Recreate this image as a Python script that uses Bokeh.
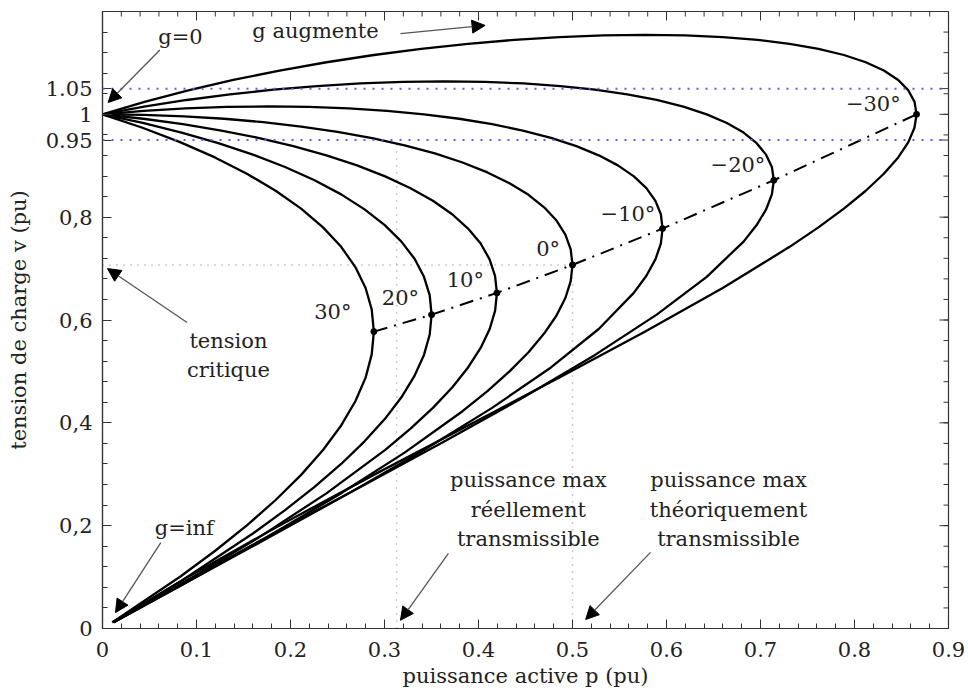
from bokeh.plotting import figure
from bokeh.models import (Range1d, FixedTicker, Arrow, NormalHead,
                          Label, Span, ColumnDataSource)
from bokeh.core.properties import value
from bokeh.embed import file_html
from bokeh.resources import INLINE

# ---------------- data ----------------
angle_names = ["30°", "20°", "10°", "0°", "−10°", "−20°", "−30°"]

p_30 = [0.0, 0.0425, 0.0825, 0.1196, 0.1536, 0.1842, 0.2113, 0.2346, 0.2539, 0.2690, 0.2799, 0.2864, 0.2887, 0.2864, 0.2799, 0.2690, 0.2539, 0.2346, 0.2113, 0.1842, 0.1536, 0.1196, 0.0825, 0.0104]
v_30 = [1.0, 0.9739, 0.9459, 0.9162, 0.8845, 0.8514, 0.8165, 0.7801, 0.7423, 0.7030, 0.6623, 0.6204, 0.5774, 0.5331, 0.4880, 0.4419, 0.3949, 0.3472, 0.2988, 0.2499, 0.2005, 0.1507, 0.1007, 0.012]

p_20 = [0.0, 0.0429, 0.0841, 0.1232, 0.1600, 0.1942, 0.2256, 0.2539, 0.2788, 0.3003, 0.3180, 0.3320, 0.3420, 0.3481, 0.3501, 0.3481, 0.3420, 0.3319, 0.3180, 0.3003, 0.2788, 0.2539, 0.2256, 0.1942, 0.1600, 0.0841, 0.0113]
v_20 = [1.0, 0.9832, 0.9645, 0.9439, 0.9216, 0.8975, 0.8718, 0.8443, 0.8152, 0.7846, 0.7525, 0.7190, 0.6840, 0.6479, 0.6104, 0.5718, 0.5321, 0.4913, 0.4497, 0.4073, 0.3640, 0.3200, 0.2754, 0.2303, 0.1847, 0.0928, 0.012]

p_10 = [0.0, 0.0432, 0.0855, 0.1264, 0.1657, 0.2030, 0.2382, 0.2708, 0.3007, 0.3277, 0.3515, 0.3720, 0.3889, 0.4023, 0.4118, 0.4176, 0.4196, 0.4177, 0.4119, 0.4023, 0.3889, 0.3720, 0.3515, 0.3277, 0.3008, 0.2382, 0.1657, 0.0855, 0.0118]
v_10 = [1.0, 0.9914, 0.9808, 0.9684, 0.9542, 0.9382, 0.9203, 0.9007, 0.8794, 0.8564, 0.8318, 0.8057, 0.7778, 0.7487, 0.7180, 0.6860, 0.6527, 0.6182, 0.5825, 0.5456, 0.5077, 0.4688, 0.4291, 0.3886, 0.3473, 0.2628, 0.1763, 0.0885, 0.012]

p_0 = [0.0, 0.0436, 0.0868, 0.1294, 0.1710, 0.2113, 0.2500, 0.2868, 0.3214, 0.3536, 0.3830, 0.4095, 0.4330, 0.4532, 0.4698, 0.4830, 0.4924, 0.4981, 0.5, 0.4981, 0.4924, 0.4830, 0.4698, 0.4532, 0.4330, 0.4095, 0.3830, 0.3214, 0.2500, 0.1710, 0.0868, 0.012]
v_0 = [1.0, 0.9990, 0.9962, 0.9914, 0.9848, 0.9763, 0.9659, 0.9537, 0.9397, 0.9239, 0.9063, 0.8870, 0.8660, 0.8434, 0.8192, 0.7934, 0.7660, 0.7373, 0.7071, 0.6756, 0.6428, 0.6088, 0.5736, 0.5373, 0.5, 0.4617, 0.4226, 0.3420, 0.2588, 0.1736, 0.0872, 0.012]

p_m10 = [0.0, 0.0439, 0.0882, 0.1324, 0.1763, 0.2195, 0.2618, 0.3027, 0.3420, 0.3794, 0.4145, 0.4471, 0.4771, 0.5041, 0.5279, 0.5483, 0.5653, 0.5786, 0.5882, 0.5940, 0.5958, 0.5940, 0.5882, 0.5786, 0.5652, 0.5279, 0.4771, 0.4145, 0.3420, 0.2618, 0.1763, 0.0882, 0.0118]
v_m10 = [1.0, 1.0067, 1.0116, 1.0144, 1.0154, 1.0144, 1.0116, 1.0067, 1.0, 0.9914, 0.9808, 0.9684, 0.9542, 0.9382, 0.9203, 0.9007, 0.8794, 0.8564, 0.8318, 0.8057, 0.7778, 0.7487, 0.7180, 0.6860, 0.6527, 0.5825, 0.5077, 0.4291, 0.3473, 0.2628, 0.1763, 0.0885, 0.012]

p_m20 = [0.0, 0.0442, 0.0896, 0.1356, 0.1819, 0.2283, 0.2744, 0.3197, 0.3640, 0.4068, 0.4480, 0.4871, 0.5240, 0.5582, 0.5896, 0.6179, 0.6428, 0.6642, 0.6820, 0.6959, 0.7059, 0.7121, 0.7142, 0.7121, 0.7060, 0.6959, 0.6820, 0.6428, 0.5896, 0.5240, 0.4480, 0.3640, 0.2744, 0.1819, 0.0896, 0.0113]
v_m20 = [1.0, 1.0149, 1.0279, 1.0389, 1.0480, 1.0550, 1.0601, 1.0631, 1.0642, 1.0631, 1.0601, 1.0550, 1.0480, 1.0389, 1.0279, 1.0149, 1.0, 0.9832, 0.9645, 0.9439, 0.9216, 0.8975, 0.8718, 0.8443, 0.8152, 0.7846, 0.7525, 0.6840, 0.6104, 0.5321, 0.4497, 0.3640, 0.2754, 0.1847, 0.0928, 0.012]

p_m30 = [0.0, 0.0447, 0.0913, 0.1392, 0.1884, 0.2383, 0.2887, 0.3390, 0.3889, 0.4381, 0.4861, 0.5326, 0.5774, 0.6198, 0.6598, 0.6970, 0.7310, 0.7617, 0.7887, 0.8120, 0.8312, 0.8465, 0.8573, 0.8639, 0.8660, 0.8638, 0.8573, 0.8465, 0.8312, 0.8120, 0.7887, 0.7616, 0.7310, 0.6598, 0.5774, 0.4861, 0.3889, 0.2886, 0.1884, 0.0913, 0.0104]
v_m30 = [1.0, 1.0242, 1.0465, 1.0669, 1.0851, 1.1013, 1.1154, 1.1274, 1.1372, 1.1448, 1.1503, 1.1536, 1.1547, 1.1536, 1.1503, 1.1448, 1.1372, 1.1274, 1.1154, 1.1013, 1.0851, 1.0669, 1.0465, 1.0243, 1.0, 0.9739, 0.9459, 0.9162, 0.8845, 0.8514, 0.8165, 0.7801, 0.7423, 0.6623, 0.5774, 0.4880, 0.3949, 0.2988, 0.2005, 0.1007, 0.012]

# critical (nose) points of each curve
nose_p = [0.2887, 0.3501, 0.4196, 0.5, 0.5958, 0.7142, 0.8660]
nose_v = [0.5774, 0.6104, 0.6527, 0.7071, 0.7778, 0.8718, 1.0]

# voltage limits and reference values
v_limits = [0.95, 1.05]
crit_p, crit_v = 0.5, 0.7071
real_max_p = 0.313

x_ticks = [0.0, 0.1, 0.2, 0.3, 0.4, 0.5, 0.6, 0.7, 0.8, 0.9]
x_tick_labels = ["0", "0.1", "0.2", "0.3", "0.4", "0.5", "0.6", "0.7", "0.8", "0.9"]
y_ticks = [0.0, 0.2, 0.4, 0.6, 0.8, 0.95, 1.0, 1.05]
y_tick_labels = ["0", "0,2", "0,4", "0,6", "0,8", "0.95", "1", "1.05"]
x_minor = [i / 50 for i in range(0, 46)]
y_minor = [i / 25 for i in range(0, 31)]

# ---------------- figure ----------------
FONT = "DejaVu Serif"
TXT = "#222222"
FS = "21px"
X0, X1, Y0, Y1 = 0.0, 0.9, 0.0, 1.2
FW, FH = 846, 617   # frame size in px (for tick lengths)

p = figure(width=968, height=699, x_range=Range1d(X0, X1), y_range=Range1d(Y0, Y1),
           output_backend="svg", toolbar_location=None,
           min_border_left=102, min_border_right=20, min_border_top=11, min_border_bottom=71,
           x_axis_label="puissance active p (pu)", y_axis_label="tension de charge v (pu)")
p.xgrid.visible = False
p.ygrid.visible = False
p.outline_line_color = "#333333"
p.outline_line_width = 1.2
p.background_fill_color = "white"
p.border_fill_color = "white"

p.xaxis.ticker = FixedTicker(ticks=x_ticks, minor_ticks=x_minor)
p.yaxis.ticker = FixedTicker(ticks=y_ticks, minor_ticks=y_minor)
for ax in p.xaxis + p.yaxis:
    ax.major_tick_in = 9
    ax.major_tick_out = 0
    ax.minor_tick_in = 5
    ax.minor_tick_out = 0
    ax.axis_line_color = "#333333"
    ax.axis_line_width = 1.2
    ax.major_tick_line_color = "#333333"
    ax.minor_tick_line_color = "#333333"
    ax.major_label_text_font = FONT
    ax.major_label_text_font_size = FS
    ax.major_label_text_color = TXT
    ax.axis_label_text_font = FONT
    ax.axis_label_text_font_size = FS
    ax.axis_label_text_font_style = "normal"
    ax.axis_label_text_color = TXT
p.xaxis.major_label_overrides = {t: l for t, l in zip(x_ticks, x_tick_labels)}
p.yaxis.major_label_overrides = {t: l for t, l in zip(y_ticks, y_tick_labels)}
p.xaxis.major_label_standoff = 13
p.xaxis.axis_label_standoff = 4
p.yaxis.major_label_standoff = 10
p.yaxis.axis_label_standoff = 12

# mirrored ticks on the top and right frame edges
dy_major, dy_minor = 9 * (Y1 - Y0) / FH, 5 * (Y1 - Y0) / FH
dx_major, dx_minor = 9 * (X1 - X0) / FW, 5 * (X1 - X0) / FW
tk = dict(line_color="#333333", line_width=1)
p.segment(x0=x_ticks, y0=[Y1] * len(x_ticks), x1=x_ticks, y1=[Y1 - dy_major] * len(x_ticks), **tk)
p.segment(x0=x_minor, y0=[Y1] * len(x_minor), x1=x_minor, y1=[Y1 - dy_minor] * len(x_minor), **tk)
p.segment(x0=[X1] * len(y_ticks), y0=y_ticks, x1=[X1 - dx_major] * len(y_ticks), y1=y_ticks, **tk)
p.segment(x0=[X1] * len(y_minor), y0=y_minor, x1=[X1 - dx_minor] * len(y_minor), y1=y_minor, **tk)

# voltage limit lines (blue dotted)
for vl in v_limits:
    p.add_layout(Span(location=vl, dimension="width", line_color="#5c5cf0",
                      line_width=2, line_dash="2 7"))

# grey dotted reference lines
grey = dict(line_color="#9a9a9a", line_width=1.5, line_dash="1 6")
p.line([0, crit_p], [crit_v, crit_v], **grey)
p.line([crit_p, crit_p], [0, crit_v], **grey)
p.line([real_max_p, real_max_p], [0, v_limits[0]], **grey)

# curves
for px, vy in ((p_30, v_30), (p_20, v_20), (p_10, v_10), (p_0, v_0),
               (p_m10, v_m10), (p_m20, v_m20), (p_m30, v_m30)):
    p.line(px, vy, line_color="black", line_width=2.3, line_join="round")

# locus of critical points
p.line(nose_p, nose_v, line_color="black", line_width=2, line_dash="14 7 2 7")
p.scatter(nose_p, nose_v, size=6, fill_color="black", line_color="black")

# angle labels (anchored near the noses)
lab_p = [0.245, 0.317, 0.386, 0.474, 0.559, 0.676, 0.820]
lab_v = [0.615, 0.642, 0.677, 0.739, 0.807, 0.901, 1.021]
src = ColumnDataSource(dict(x=lab_p, y=lab_v, t=angle_names))
p.text("x", "y", text="t", source=src, text_font=value(FONT), text_font_size=FS,
       text_color=TXT, text_align="center", text_baseline="middle")

# text annotations
def lab(x, y, t):
    p.add_layout(Label(x=x, y=y, text=t, text_font=FONT, text_font_size=FS,
                       text_color=TXT, text_align="center", text_baseline="middle"))

lab(0.083, 1.150, "g=0")
lab(0.2266, 1.163, "g augmente")
lab(0.134, 0.560, "tension")
lab(0.134, 0.502, "critique")
lab(0.087, 0.196, "g=inf")
lab(0.453, 0.288, "puissance max")
lab(0.453, 0.2296, "réellement")
lab(0.453, 0.175, "transmissible")
lab(0.666, 0.288, "puissance max")
lab(0.666, 0.2296, "théoriquement")
lab(0.666, 0.175, "transmissible")

def arrow(x0, y0, x1, y1):
    p.add_layout(Arrow(end=NormalHead(size=13, fill_color="black", line_color="black"),
                       x_start=x0, y_start=y0, x_end=x1, y_end=y1,
                       line_color="#555555", line_width=1.3))

arrow(0.061, 1.125, 0.006, 1.023)
arrow(0.317, 1.157, 0.407, 1.173)
arrow(0.090, 0.595, 0.0053, 0.700)
arrow(0.062, 0.167, 0.0138, 0.031)
arrow(0.368, 0.146, 0.317, 0.016)
arrow(0.583, 0.148, 0.514, 0.0175)

open("out.html", "w").write(file_html(p, INLINE))
